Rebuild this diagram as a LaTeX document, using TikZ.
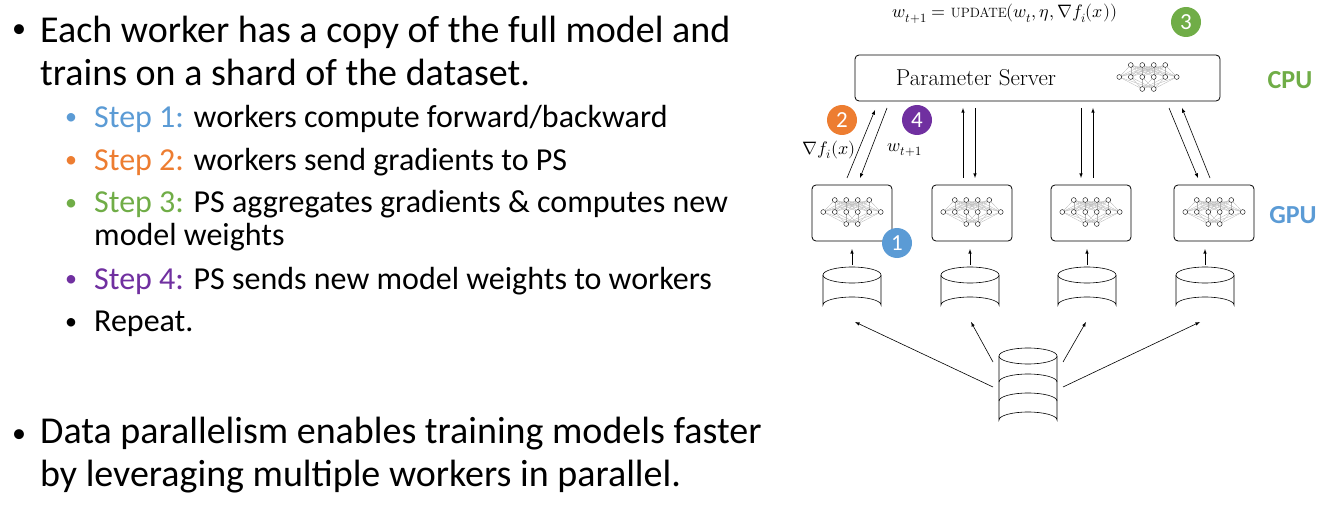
\documentclass[tikz,border=0pt]{standalone}
\usepackage{fontspec}
\setmainfont{Carlito}
\usepackage{amsmath}
\usepackage{unicode-math}
\setmathfont{Latin Modern Math}
\definecolor{cblue}{HTML}{5B9BD5}
\definecolor{corange}{HTML}{ED7D31}
\definecolor{cgreen}{HTML}{70AD47}
\definecolor{cpurple}{HTML}{7030A0}
\newfontfamily\lmr{Latin Modern Roman}
\begin{document}
\begin{tikzpicture}[x=1pt,y=-1pt,
  big/.style={anchor=west,font=\fontsize{38}{43}\selectfont,align=left,inner sep=0pt},
  sub/.style={anchor=west,font=\fontsize{32}{33}\selectfont,align=left,inner sep=0pt},
  bul/.style={anchor=center,font=\fontsize{28}{28}\selectfont,inner sep=0pt},
  sbul/.style={anchor=center,font=\fontsize{24}{24}\selectfont,inner sep=0pt},
  box/.style={draw,rounded corners=4pt,line width=0.8pt},
  num/.style={circle,minimum size=30pt,inner sep=0pt,text=white,font=\fontsize{23}{23}\selectfont},
  arr/.style={-latex,line width=0.6pt},
  nnpic/.pic={
    \foreach \i in {1,...,4} \foreach \j in {1,...,6} \draw[gray!60,line width=0.3pt] ({(\i-2.5)*11.5},-12)--({(\j-3.5)*11.5},0);
    \foreach \i in {1,2} \foreach \j in {1,...,6} \draw[gray!60,line width=0.3pt] ({(\i-1.5)*11.5},12)--({(\j-3.5)*11.5},0);
    \foreach \i in {1,...,4} \draw[fill=white,line width=0.4pt] ({(\i-2.5)*11.5},-12) circle (2.4);
    \foreach \j in {1,...,6} \draw[fill=white,line width=0.4pt] ({(\j-3.5)*11.5},0) circle (2.4);
    \foreach \i in {1,2} \draw[fill=white,line width=0.4pt] ({(\i-1.5)*11.5},12) circle (2.4);
  }]
\useasboundingbox (0,0) rectangle (1322,505);
% left text
\node[bul] (bu1) at (19,31) {•};
\node[big] (b1) at (40,51) {Each worker has a copy of the full model and\\trains on a shard of the dataset.};
\node[sbul,text=cblue] (su1) at (71,119) {•};
\node[sub] (s1) at (94,119) {\textcolor{cblue}{Step 1:} workers compute forward/backward};
\node[sbul,text=corange] (su2) at (71,162) {•};
\node[sub] (s2) at (94,162) {\textcolor{corange}{Step 2:} workers send gradients to PS};
\node[sbul,text=cgreen] (su3) at (71,205) {•};
\node[sub] (s3) at (94,221) {\textcolor{cgreen}{Step 3:} PS aggregates gradients \& computes new\\model weights};
\node[sbul,text=cpurple] (su4) at (71,281) {•};
\node[sub] (s4) at (94,281) {\textcolor{cpurple}{Step 4:} PS sends new model weights to workers};
\node[sbul] (su5) at (71,324) {•};
\node[sub] (s5) at (94,324) {Repeat.};
\node[bul] (bu2) at (19,436) {•};
\node[big] (b2) at (40,455) {Data parallelism enables training models faster\\by leveraging multiple workers in parallel.};
% PS
\node[box,minimum width=365pt,minimum height=46pt] (ps) at (1037.5,78) {};
\node[font=\lmr\fontsize{23}{23}\selectfont] (pst) at (976,78) {Parameter Server};
\pic (psnn) at (1148,77) {nnpic};
\node[font=\fontsize{18}{18}\selectfont] (form) at (1005,14) {$w_{t+1}=\text{\lmr\fontsize{13.5}{13.5}\selectfont UPDATE}(w_t,\eta,\nabla f_i(x))$};
\node[num,fill=cgreen] (n3) at (1186,22) {3};
\node[font=\bfseries\fontsize{26}{26}\selectfont,text=cgreen] (cpu) at (1290,80) {CPU};
\node[font=\bfseries\fontsize{26}{26}\selectfont,text=cblue] (gpu) at (1293,215) {GPU};
% workers
\foreach \n/\x in {1/852,2/972,3/1091,4/1214}{
  \node[box,minimum width=80pt,minimum height=56pt] (w\n) at (\x,213) {};
  \pic (nn\n) at (\x,212) {nnpic};
}
\foreach \n/\x in {1/852,2/970,3/1087,4/1205}{
  \coordinate (d\n) at (\x,275);
  \draw[line width=0.6pt,fill=white] (\x-29,275) -- (\x-29,305) arc[start angle=180,end angle=360,x radius=29,y radius=8] -- (\x+29,275);
  \draw[line width=0.6pt,fill=white] (\x,275) ellipse[x radius=29,y radius=8];
  \coordinate (dt\n) at (\x,265);
  \coordinate (wb\n) at (\x,249);
  \draw[arr] (dt\n) -- (wb\n);
}
% big db
\begin{scope}[line width=0.6pt]
\draw[fill=white] (999,356) -- (999,420) arc[start angle=180,end angle=360,x radius=29,y radius=8] -- (1057,356);
\draw (999,382) arc[start angle=180,end angle=360,x radius=29,y radius=8];
\draw (999,401) arc[start angle=180,end angle=360,x radius=29,y radius=8];
\draw[fill=white] (1028,356) ellipse[x radius=29,y radius=8];
\end{scope}
\coordinate (bl1) at (993,387); \coordinate (bl2) at (993,362);
\coordinate (br1) at (1063,387); \coordinate (br2) at (1063,362);
\coordinate (e1) at (855,322); \coordinate (e2) at (971,322);
\coordinate (e3) at (1086,322); \coordinate (e4) at (1200,322);
\draw[arr] (bl1) -- (e1); \draw[arr] (bl2) -- (e2);
\draw[arr] (br2) -- (e3); \draw[arr] (br1) -- (e4);
% PS-worker arrows
\coordinate (a1) at (847,178); \coordinate (a2) at (875,110);
\coordinate (a3) at (887,108); \coordinate (a4) at (860,178);
\draw[arr] (a1) -- (a2); \draw[arr] (a3) -- (a4);
\coordinate (b1s) at (963,178); \coordinate (b1e) at (963,108);
\coordinate (b2s) at (975,108); \coordinate (b2e) at (975,178);
\draw[arr] (b1s) -- (b1e); \draw[arr] (b2s) -- (b2e);
\coordinate (c1s) at (1081,108); \coordinate (c1e) at (1081,178);
\coordinate (c2s) at (1093,178); \coordinate (c2e) at (1093,108);
\draw[arr] (c1s) -- (c1e); \draw[arr] (c2s) -- (c2e);
\coordinate (g1s) at (1169,108); \coordinate (g1e) at (1198,178);
\coordinate (g2s) at (1210,178); \coordinate (g2e) at (1182,108);
\draw[arr] (g1s) -- (g1e); \draw[arr] (g2s) -- (g2e);
\node[font=\fontsize{18}{18}\selectfont] (lg) at (829,150) {$\nabla f_i(x)$};
\node[font=\fontsize{18}{18}\selectfont] (lw) at (905,150) {$w_{t+1}$};
\node[num,fill=corange] (n2) at (842,120) {2};
\node[num,fill=cpurple] (n4) at (917,120) {4};
\node[num,fill=cblue] (n1) at (897,243) {1};
\end{tikzpicture}
\end{document}
